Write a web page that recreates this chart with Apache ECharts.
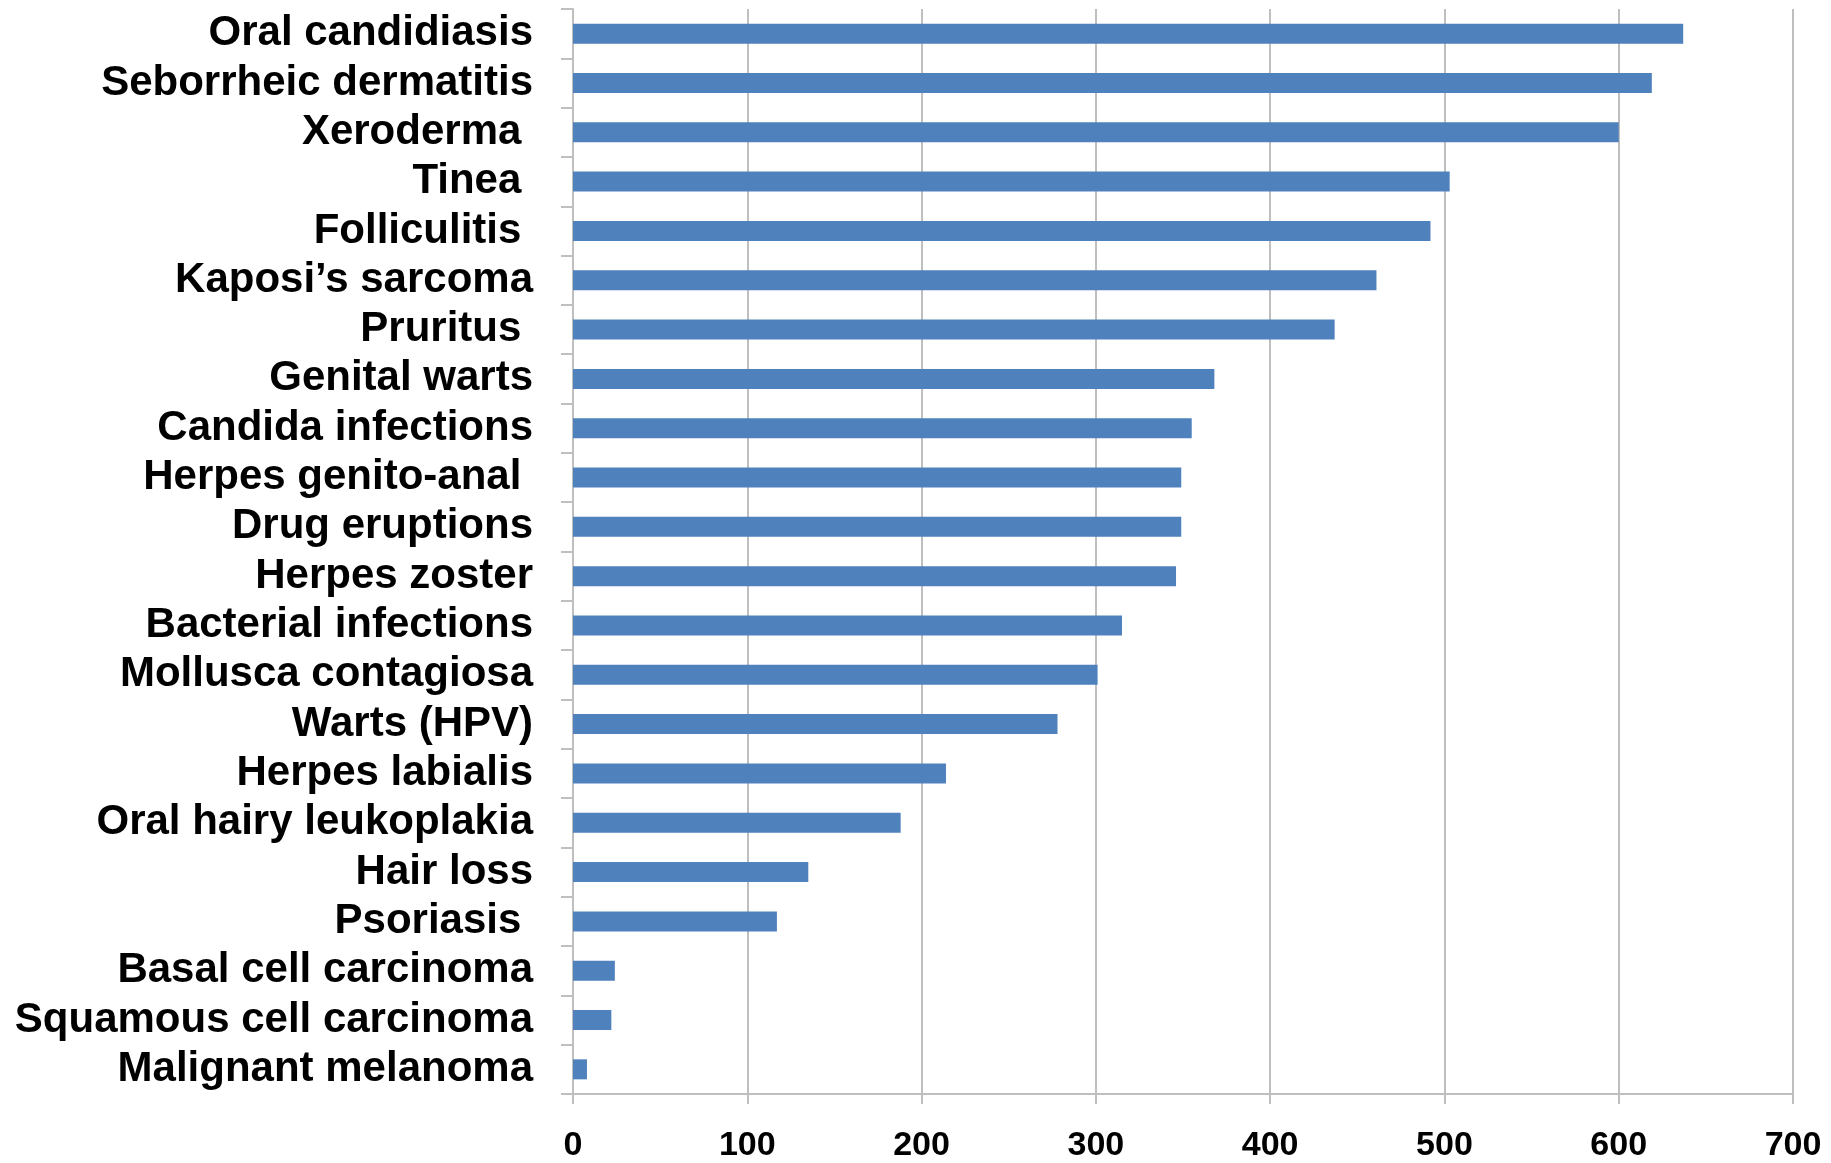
<!DOCTYPE html>
<html>
<head>
<meta charset="utf-8">
<style>
  html, body { margin: 0; padding: 0; background: #fff; }
  #chart { width: 1831px; height: 1163px; }
</style>
<script src="https://cdn.jsdelivr.net/npm/echarts@6/dist/echarts.min.js"></script>
</head>
<body>
<div id="chart"></div>
<script>
// categories listed top to bottom as in the picture
const categories = [
  'Oral candidiasis', 'Seborrheic dermatitis', 'Xeroderma ', 'Tinea ',
  'Folliculitis ', 'Kaposi\u2019s sarcoma', 'Pruritus ', 'Genital warts',
  'Candida infections', 'Herpes genito-anal ', 'Drug eruptions', 'Herpes zoster',
  'Bacterial infections', 'Mollusca contagiosa', 'Warts (HPV)', 'Herpes labialis',
  'Oral hairy leukoplakia', 'Hair loss', 'Psoriasis ', 'Basal cell carcinoma',
  'Squamous cell carcinoma', 'Malignant melanoma'
]
const counts = [
  637, 619, 600, 503,
  492, 461, 437, 368,
  355, 349, 349, 346,
  315, 301, 278, 214,
  188, 135, 117, 24,
  22, 8
]
const xTicks = [0, 100, 200, 300, 400, 500, 600, 700]

const font = '"Liberation Sans", Arial, sans-serif'
const gridGray = '#BFBFBF'

const chart = echarts.init(document.getElementById('chart'))
const option = {
  animation: false,
  backgroundColor: '#fff',
  grid: {
    left: 573,
    right: 38,
    top: 9,
    bottom: 69,
    containLabel: false
  },
  xAxis: {
    type: 'value',
    min: xTicks[0],
    max: xTicks[xTicks.length - 1],
    interval: 100,
    axisLine: { show: true, lineStyle: { color: gridGray, width: 2 } },
    axisTick: { show: true, length: 10, lineStyle: { color: gridGray, width: 2 } },
    splitLine: { show: true, lineStyle: { color: gridGray, width: 2 } },
    axisLabel: {
      margin: 35,
      color: '#000',
      fontFamily: font,
      fontWeight: 'bold',
      fontSize: 34
    }
  },
  yAxis: {
    type: 'category',
    inverse: true,
    data: categories,
    axisLine: { show: true, lineStyle: { color: gridGray, width: 2 } },
    axisTick: { show: true, length: 12, alignWithLabel: false, lineStyle: { color: gridGray, width: 2 } },
    axisLabel: {
      margin: 40,
      interval: 0,
      color: '#000',
      fontFamily: font,
      fontWeight: 'bold',
      fontSize: 42
    }
  },
  series: [
    {
      type: 'bar',
      data: counts,
      barWidth: 20,
      itemStyle: { color: '#4F81BD' }
    }
  ]
}
chart.setOption(option)
</script>
</body>
</html>
